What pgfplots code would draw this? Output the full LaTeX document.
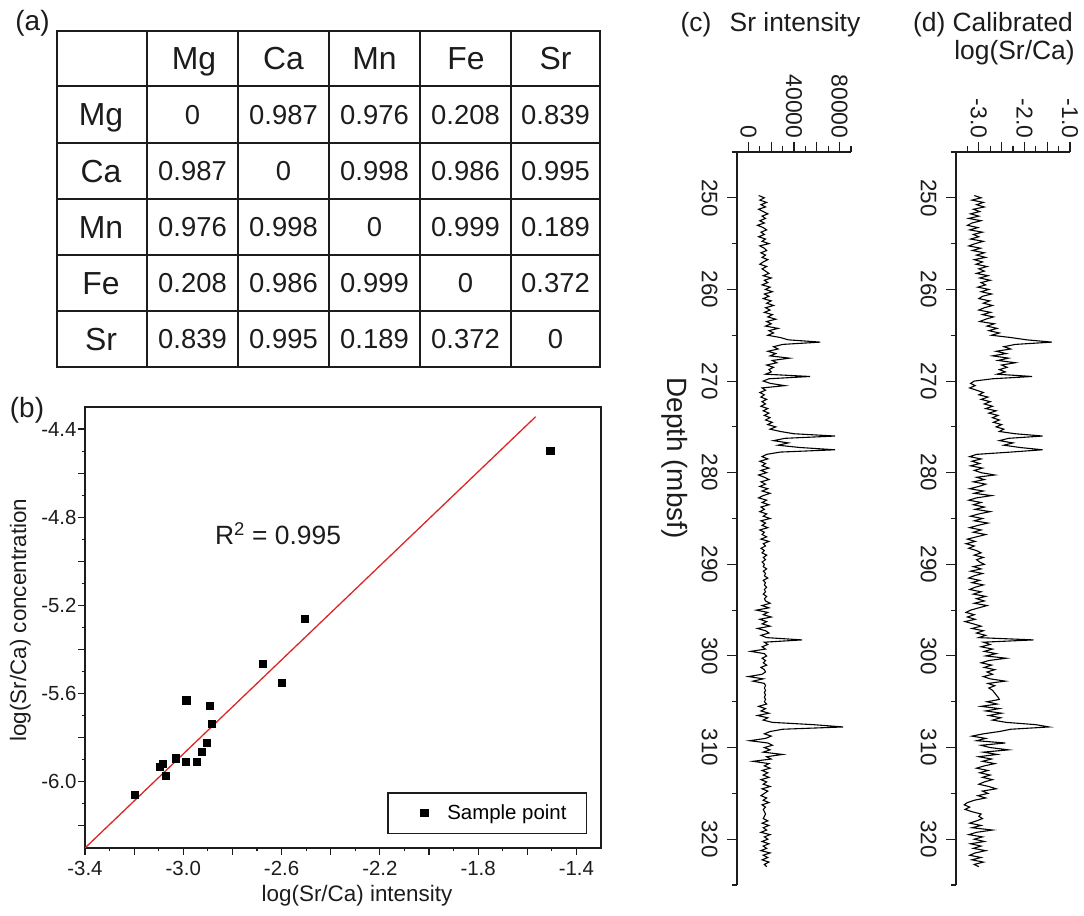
\documentclass[border=0pt]{standalone}
\usepackage{fontspec}
\setmainfont{Liberation Sans}
\usepackage{pgfplots}
\pgfplotsset{compat=1.18}
\definecolor{fitred}{RGB}{222,38,38}
\definecolor{ink}{RGB}{28,28,28}

\begin{document}
\begin{tikzpicture}
\begin{scope}[x=1bp,y=1bp,
  hd/.style={font=\fontsize{32}{32}\selectfont, anchor=base, inner sep=0pt, text=ink},
  nm/.style={font=\fontsize{27.5}{27.5}\selectfont, anchor=base, inner sep=0pt, text=ink},
  lb/.style={anchor=base, inner sep=0pt, text=ink}]
\path[use as bounding box] (0,0) rectangle (1084,916);

% ---------- (a) correlation table
\node[lb, font=\fontsize{28}{28}\selectfont] at (32.5,885.5) {(a)};
\draw[line width=1.8bp, ink] (57,549.3) rectangle (600,885.3);
\foreach \x in {147,238,329,420,511} \draw[line width=1.8bp, ink] (\x,549.3) -- (\x,885.3);
\foreach \y in {830,773.3,717.3,661,605} \draw[line width=1.8bp, ink] (57,\y) -- (600,\y);
\foreach \h/\x in {Mg/194, Ca/283.5, Mn/374.5, Fe/466, Sr/555.5}
  \node[hd] at (\x,846) {\h};
\foreach \r/\yc/\a/\b/\c/\d/\e in {
    Mg/801.6/0/0.987/0.976/0.208/0.839,
    Ca/745.3/0.987/0/0.998/0.986/0.995,
    Mn/689.1/0.976/0.998/0/0.999/0.189,
    Fe/633.0/0.208/0.986/0.999/0/0.372,
    Sr/577.1/0.839/0.995/0.189/0.372/0} {
  \node[hd] at (101,\yc-11.5) {\r};
  \node[nm] at (192.5,\yc-10) {\a};
  \node[nm] at (283.5,\yc-10) {\b};
  \node[nm] at (374.5,\yc-10) {\c};
  \node[nm] at (465.5,\yc-10) {\d};
  \node[nm] at (555.5,\yc-10) {\e};
}

% ---------- labels around the plots
\node[lb, font=\fontsize{28}{28}\selectfont] at (27,498) {(b)};
\node[lb, font=\fontsize{26.5}{26.5}\selectfont] at (278,371) {R\textsuperscript{2} = 0.995};
\node[lb, font=\fontsize{22.5}{22.5}\selectfont] at (357,14) {log(Sr/Ca) intensity};
\node[lb, rotate=90, font=\fontsize{22.5}{22.5}\selectfont] at (26,296) {log(Sr/Ca) concentration};
\node[lb, font=\fontsize{26.5}{26.5}\selectfont] at (696,884) {(c)};
\node[lb, font=\fontsize{26.5}{26.5}\selectfont] at (795,884) {Sr intensity};
\node[lb, rotate=-90, font=\fontsize{28}{28}\selectfont] at (667,458) {Depth (mbsf)};
\node[lb, font=\fontsize{26.5}{26.5}\selectfont] at (993,884) {(d) Calibrated};
\node[lb, font=\fontsize{26.5}{26.5}\selectfont] at (1014.5,856) {log(Sr/Ca)};
\end{scope}

% ---------- (b) calibration scatter
\begin{axis}[
  at={(85bp,68bp)}, anchor=south west, scale only axis,
  width=516bp, height=441bp,
  xmin=-3.4, xmax=-1.3, ymin=-6.3, ymax=-4.3,
  axis line style={line width=1.3bp, ink},
  every tick/.style={line width=1.1bp, ink},
  tick align=outside, tick pos=left,
  major tick length=7bp, minor tick length=3.5bp,
  xtick={-3.4,-3.2,-3.0,-2.8,-2.6,-2.4,-2.2,-2.0,-1.8,-1.6,-1.4},
  xticklabels={-3.4,,-3.0,,-2.6,,-2.2,,-1.8,,-1.4},
  minor xtick={-3.3,-3.1,-2.9,-2.7,-2.5,-2.3,-2.1,-1.9,-1.7,-1.5},
  ytick={-6.2,-6.0,-5.8,-5.6,-5.4,-5.2,-5.0,-4.8,-4.6,-4.4},
  yticklabels={,-6.0,,-5.6,,-5.2,,-4.8,,-4.4},
  minor ytick={-6.1,-5.9,-5.7,-5.5,-5.3,-5.1,-4.9,-4.7,-4.5},
  ticklabel style={font=\fontsize{20.5}{20.5}\selectfont, text=ink},
  xticklabel shift=3bp, yticklabel shift=-2bp,
  legend style={at={(0.973,0.032)}, anchor=south east, draw=ink,
    line width=1.2bp, font=\fontsize{20.5}{20.5}\selectfont,
    inner xsep=33bp, inner ysep=10bp, column sep=17bp},
  legend cell align=left,
]
\addplot[fitred, line width=1.3bp, forget plot] coordinates {(-3.4,-6.3) (-1.566,-4.344)};
\addplot[only marks, mark=square*, mark size=3.6bp, black] coordinates {
  (-1.507,-4.500) (-2.505,-5.261) (-2.678,-5.463) (-2.601,-5.550)
  (-2.988,-5.630) (-2.891,-5.656) (-2.885,-5.735) (-2.905,-5.822)
  (-2.925,-5.863) (-2.946,-5.910) (-2.991,-5.910) (-3.031,-5.893)
  (-3.084,-5.916) (-3.095,-5.931) (-3.073,-5.972) (-3.198,-6.060)};
\addlegendentry{Sample point\hspace{-15bp}\mbox{}}
\end{axis}

% ---------- (c) Sr intensity log
\begin{axis}[
  at={(737bp,31bp)}, anchor=south west, scale only axis,
  width=114bp, height=733bp,
  xmin=-10, xmax=90, ymin=245, ymax=325, y dir=reverse,
  axis x line*=top, axis y line*=left,
  axis line style={line width=1.3bp, ink},
  every tick/.style={line width=1.1bp, ink},
  tick align=outside,
  major tick length=10bp, minor tick length=5.5bp,
  xtick={0,20,40,60,80}, xticklabels={0,,40000,,80000},
  minor xtick={10,30,50,70,90},
  ytick={250,260,270,280,290,300,310,320},
  yticklabels={250,260,270,280,290,300,310,320},
  minor ytick={245,255,265,275,285,295,305,315,325},
  xticklabel style={rotate=-90, anchor=east, font=\fontsize{23}{23}\selectfont, text=ink},
  yticklabel style={rotate=-90, anchor=north, font=\fontsize{22.5}{22.5}\selectfont, text=ink},
  yticklabel shift=6bp,
]
\addplot[black, line width=1.1bp] coordinates {
(9,249.75) (14,250) (10,250.25) (16,250.5) (11,250.75) (15,251) (9,251.25) (13,251.5)
(17,251.75) (12,252) (15,252.25) (10,252.5) (14,252.75) (8,253) (13,253.25) (16,253.5)
(11,253.75) (14,254) (9,254.25) (15,254.5) (12,254.75) (18,255) (10,255.25) (14,255.5)
(16,255.75) (11,256) (15,256.25) (12,256.5) (17,256.75) (13,257) (10,257.25) (16,257.5)
(12,257.75) (15,258) (18,258.25) (13,258.5) (20,258.75) (14,259) (17,259.25) (12,259.5)
(19,259.75) (15,260) (21,260.25) (14,260.5) (18,260.75) (13,261) (20,261.25) (16,261.5)
(22,261.75) (15,262) (19,262.25) (14,262.5) (21,262.75) (17,263) (24,263.25) (16,263.5)
(20,263.75) (15,264) (26,264.25) (18,264.5) (22,264.75) (17,265) (28,265.25) (35,265.5)
(63,265.75) (30,266) (22,266.25) (26,266.5) (17,266.75) (24,267) (19,267.25) (36,267.5)
(21,267.75) (25,268) (16,268.25) (22,268.5) (18,268.75) (20,269) (15,269.25) (54,269.5)
(18,269.75) (13,270) (19,270.25) (32,270.5) (12,270.75) (15,271) (10,271.25) (14,271.5)
(11,271.75) (16,272) (12,272.25) (15,272.5) (11,272.75) (17,273) (13,273.25) (18,273.5)
(14,273.75) (19,274) (15,274.25) (21,274.5) (17,274.75) (24,275) (19,275.25) (28,275.5)
(40,275.75) (76,276) (32,276.25) (22,276.5) (35,276.75) (26,277) (45,277.25) (76,277.5)
(28,277.75) (16,278) (12,278.25) (17,278.5) (10,278.75) (15,279) (12,279.25) (18,279.5)
(11,279.75) (16,280) (9,280.25) (14,280.5) (18,280.75) (11,281) (15,281.25) (10,281.5)
(17,281.75) (12,282) (19,282.25) (13,282.5) (9,282.75) (16,283) (12,283.25) (18,283.5)
(11,283.75) (14,284) (10,284.25) (16,284.5) (13,284.75) (19,285) (11,285.25) (15,285.5)
(12,285.75) (17,286) (10,286.25) (14,286.5) (12,286.75) (16,287) (11,287.25) (18,287.5)
(13,287.75) (15,288) (11,288.25) (14,288.5) (12,288.75) (16,289) (13,289.25) (15,289.5)
(12,289.75) (14,290) (13,290.25) (16,290.5) (13,290.75) (15,291) (14,291.25) (17,291.5)
(13,291.75) (15,292) (14,292.25) (16,292.5) (14,292.75) (15,293) (13,293.25) (16,293.5)
(14,293.75) (15,294) (19,294.25) (12,294.5) (18,294.75) (7,295) (17,295.25) (13,295.5)
(20,295.75) (10,296) (16,296.25) (12,296.5) (19,296.75) (8,297) (15,297.25) (18,297.5)
(11,297.75) (16,298) (47,298.25) (14,298.5) (17,298.75) (12,299) (15,299.25) (2,299.5)
(14,299.75) (16,300) (12,300.25) (15,300.5) (13,300.75) (16,301) (11,301.25) (14,301.5)
(15,301.75) (12,302) (0,302.25) (13,302.5) (4,302.75) (14,303) (15,303.25) (14,303.5)
(15,303.75) (14,304) (15,304.25) (14,304.5) (15,304.75) (14,305) (16,305.25) (9,305.5)
(15,305.75) (11,306) (18,306.25) (8,306.5) (17,306.75) (13,307) (21,307.25) (57,307.5)
(83,307.75) (30,308) (19,308.25) (14,308.5) (20,308.75) (15,309) (1,309.25) (17,309.5)
(21,309.75) (14,310) (19,310.25) (13,310.5) (30,310.75) (16,311) (20,311.25) (4,311.5)
(18,311.75) (14,312) (19,312.25) (12,312.5) (17,312.75) (13,313) (18,313.25) (11,313.5)
(16,313.75) (13,314) (19,314.25) (12,314.5) (17,314.75) (14,315) (11,315.25) (16,315.5)
(13,315.75) (18,316) (12,316.25) (15,316.5) (13,316.75) (14,317) (15,317.25) (14,317.5)
(13,317.75) (17,318) (12,318.25) (18,318.5) (13,318.75) (16,319) (11,319.25) (19,319.5)
(14,319.75) (17,320) (12,320.25) (18,320.5) (13,320.75) (16,321) (11,321.25) (19,321.5)
(13,321.75) (17,322) (12,322.25) (18,322.5) (14,322.75) (16,323)};
\end{axis}

% ---------- (d) calibrated log(Sr/Ca)
\begin{axis}[
  at={(956bp,31bp)}, anchor=south west, scale only axis,
  width=114bp, height=733bp,
  xmin=-3.5, xmax=-1.0, ymin=245, ymax=325, y dir=reverse,
  axis x line*=top, axis y line*=left,
  axis line style={line width=1.3bp, ink},
  every tick/.style={line width=1.1bp, ink},
  tick align=outside,
  major tick length=10bp, minor tick length=5.5bp,
  xtick={-3.0,-2.5,-2.0,-1.5,-1.0}, xticklabels={-3.0,,-2.0,,-1.0},
  minor xtick={-3.25,-2.75,-2.25,-1.75,-1.25},
  ytick={250,260,270,280,290,300,310,320},
  yticklabels={250,260,270,280,290,300,310,320},
  minor ytick={245,255,265,275,285,295,305,315,325},
  xticklabel style={rotate=-90, anchor=east, font=\fontsize{23}{23}\selectfont, text=ink},
  yticklabel style={rotate=-90, anchor=north, font=\fontsize{22.5}{22.5}\selectfont, text=ink},
  yticklabel shift=6bp,
]
\addplot[black, line width=1.1bp] coordinates {
(-3.10,249.75) (-2.95,250) (-3.15,250.25) (-2.90,250.5) (-3.05,250.75) (-2.88,251) (-3.12,251.25) (-2.98,251.5)
(-3.18,251.75) (-3.00,252) (-3.22,252.25) (-2.95,252.5) (-3.15,252.75) (-3.25,253) (-3.02,253.25) (-3.20,253.5)
(-2.92,253.75) (-3.12,254) (-3.00,254.25) (-3.18,254.5) (-2.90,254.75) (-3.08,255) (-3.22,255.25) (-2.96,255.5)
(-3.14,255.75) (-2.88,256) (-3.05,256.25) (-2.85,256.5) (-3.10,256.75) (-2.92,257) (-3.06,257.25) (-2.82,257.5)
(-3.00,257.75) (-2.88,258) (-3.05,258.25) (-2.80,258.5) (-2.98,258.75) (-2.75,259) (-2.95,259.25) (-2.85,259.5)
(-3.02,259.75) (-2.78,260) (-2.95,260.25) (-2.72,260.5) (-2.92,260.75) (-3.00,261) (-2.76,261.25) (-2.90,261.5)
(-2.70,261.75) (-2.88,262) (-3.00,262.25) (-2.74,262.5) (-2.92,262.75) (-2.68,263) (-2.85,263.25) (-2.98,263.5)
(-2.66,263.75) (-2.82,264) (-2.60,264.25) (-2.78,264.5) (-2.55,264.75) (-2.72,265) (-2.30,265.25) (-1.95,265.5)
(-1.40,265.75) (-2.20,266) (-2.45,266.25) (-2.30,266.5) (-2.62,266.75) (-2.40,267) (-2.70,267.25) (-2.35,267.5)
(-2.58,267.75) (-2.20,268) (-2.50,268.25) (-2.38,268.5) (-2.55,268.75) (-2.42,269) (-2.60,269.25) (-1.83,269.5)
(-2.70,269.75) (-3.10,270) (-3.18,270.25) (-3.08,270.5) (-3.20,270.75) (-3.05,271) (-2.90,271.25) (-3.00,271.5)
(-2.80,271.75) (-2.95,272) (-2.75,272.25) (-2.88,272.5) (-2.70,272.75) (-2.85,273) (-2.62,273.25) (-2.78,273.5)
(-2.58,273.75) (-2.70,274) (-2.55,274.25) (-2.68,274.5) (-2.50,274.75) (-2.62,275) (-2.45,275.25) (-2.55,275.5)
(-2.20,275.75) (-1.60,276) (-2.35,276.25) (-2.55,276.5) (-2.25,276.75) (-2.45,277) (-2.10,277.25) (-1.60,277.5)
(-2.30,277.75) (-3.05,278) (-3.20,278.25) (-2.95,278.5) (-3.15,278.75) (-2.98,279) (-3.18,279.25) (-2.92,279.5)
(-3.10,279.75) (-2.95,280) (-2.65,280.25) (-3.05,280.5) (-2.88,280.75) (-3.12,281) (-2.85,281.25) (-3.00,281.5)
(-3.20,281.75) (-2.90,282) (-3.10,282.25) (-2.72,282.5) (-3.05,282.75) (-3.22,283) (-2.95,283.25) (-3.12,283.5)
(-2.88,283.75) (-3.08,284) (-2.75,284.25) (-3.00,284.5) (-3.18,284.75) (-2.92,285) (-3.10,285.25) (-2.80,285.5)
(-3.02,285.75) (-3.20,286) (-2.95,286.25) (-3.12,286.5) (-2.85,286.75) (-3.05,287) (-3.25,287.25) (-3.08,287.5)
(-3.28,287.75) (-3.10,288) (-3.22,288.25) (-3.05,288.5) (-2.95,288.75) (-3.10,289) (-2.90,289.25) (-3.05,289.5)
(-2.98,289.75) (-2.88,290) (-3.12,290.25) (-2.95,290.5) (-3.18,290.75) (-2.92,291) (-3.10,291.25) (-3.22,291.5)
(-2.98,291.75) (-3.15,292) (-2.90,292.25) (-3.08,292.5) (-3.20,292.75) (-2.95,293) (-3.12,293.25) (-2.85,293.5)
(-3.05,293.75) (-2.88,294) (-3.10,294.25) (-2.82,294.5) (-3.00,294.75) (-3.18,295) (-3.28,295.25) (-3.10,295.5)
(-3.25,295.75) (-3.08,296) (-3.30,296.25) (-3.12,296.5) (-2.95,296.75) (-3.15,297) (-2.90,297.25) (-3.05,297.5)
(-2.85,297.75) (-3.00,298) (-1.80,298.25) (-2.90,298.5) (-2.75,298.75) (-2.95,299) (-2.70,299.25) (-2.88,299.5)
(-2.62,299.75) (-2.85,300) (-2.40,300.25) (-2.78,300.5) (-2.95,300.75) (-2.72,301) (-2.88,301.25) (-2.65,301.5)
(-2.82,301.75) (-2.70,302) (-2.90,302.25) (-2.75,302.5) (-2.42,302.75) (-2.80,303) (-2.65,303.25) (-2.78,303.5)
(-2.70,303.75) (-2.66,304) (-2.62,304.25) (-2.58,304.5) (-2.55,304.75) (-2.82,305) (-2.60,305.25) (-2.95,305.5)
(-2.55,305.75) (-2.85,306) (-2.50,306.25) (-2.78,306.5) (-2.52,306.75) (-2.70,307) (-2.40,307.25) (-1.75,307.5)
(-1.46,307.75) (-2.30,308) (-2.55,308.25) (-2.90,308.5) (-3.15,308.75) (-2.85,309) (-3.05,309.25) (-2.42,309.5)
(-2.95,309.75) (-2.75,310) (-2.35,310.25) (-2.90,310.5) (-2.60,310.75) (-3.00,311) (-2.72,311.25) (-2.92,311.5)
(-2.65,311.75) (-2.88,312) (-3.05,312.25) (-2.80,312.5) (-2.98,312.75) (-2.75,313) (-2.92,313.25) (-2.70,313.5)
(-2.88,313.75) (-3.00,314) (-2.78,314.25) (-2.62,314.5) (-2.92,314.75) (-2.80,315) (-3.02,315.25) (-2.85,315.5)
(-3.10,315.75) (-3.25,316) (-3.32,316.25) (-3.20,316.5) (-3.30,316.75) (-3.15,317) (-2.95,317.25) (-3.00,317.5)
(-2.92,317.75) (-3.05,318) (-3.20,318.25) (-2.95,318.5) (-3.15,318.75) (-2.70,319) (-3.05,319.25) (-3.22,319.5)
(-2.92,319.75) (-3.10,320) (-2.88,320.25) (-3.18,320.5) (-2.95,320.75) (-3.12,321) (-2.85,321.25) (-3.08,321.5)
(-3.20,321.75) (-2.95,322) (-3.15,322.25) (-2.90,322.5) (-3.10,322.75) (-3.00,323)};
\end{axis}
\end{tikzpicture}
\end{document}
